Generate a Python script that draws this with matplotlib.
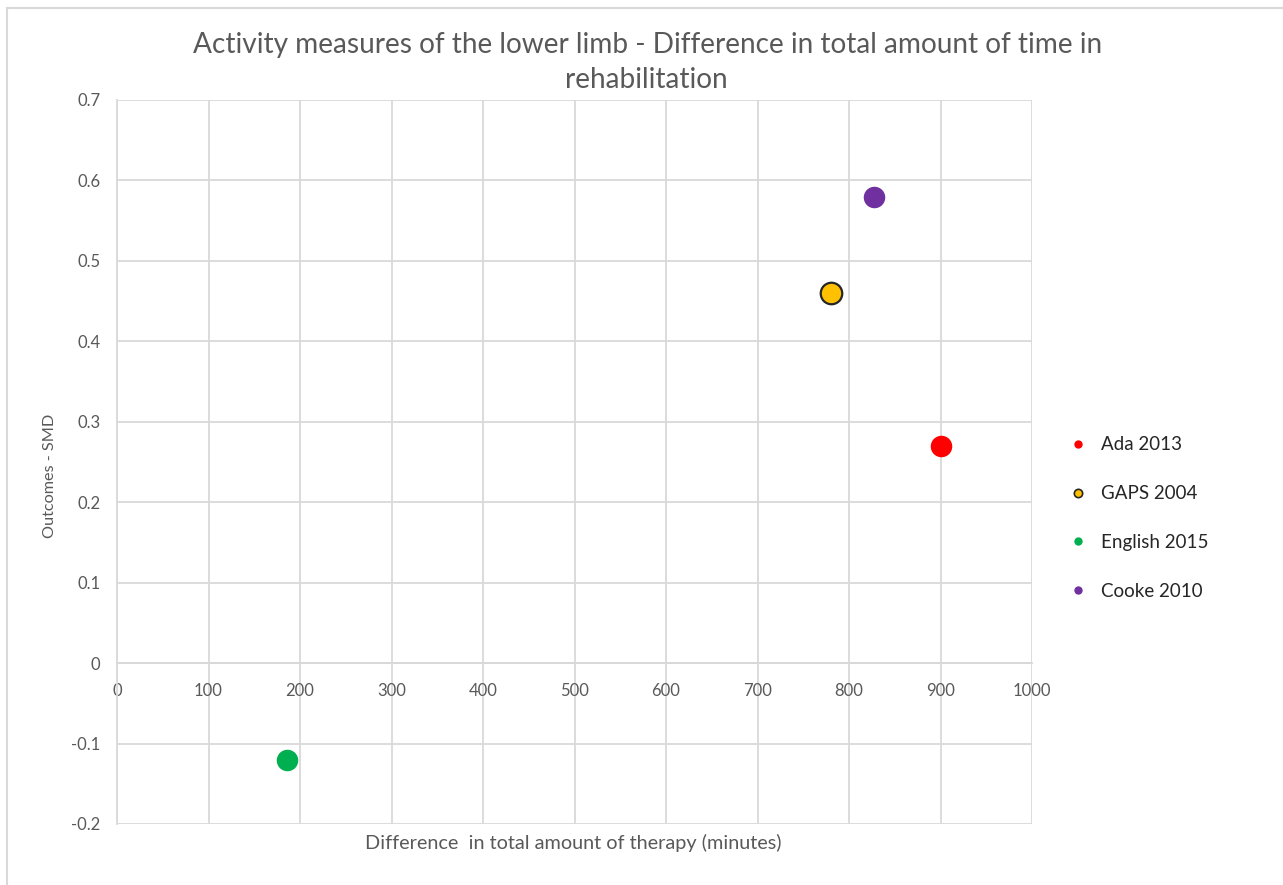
import matplotlib
matplotlib.use("Agg")
import matplotlib.pyplot as plt
from matplotlib.lines import Line2D

studies = ["Ada 2013", "GAPS 2004", "English 2015", "Cooke 2010"]
minutes = [900, 780, 186, 827]
smd = [0.27, 0.46, -0.12, 0.58]
colors = ["#FF0000", "#FFC000", "#00B050", "#7030A0"]
edges = ["#FF0000", "#262626", "#00B050", "#7030A0"]
xticks = [0, 100, 200, 300, 400, 500, 600, 700, 800, 900, 1000]
yticks = [-0.2, -0.1, 0, 0.1, 0.2, 0.3, 0.4, 0.5, 0.6, 0.7]
ytick_labels = ["-0.2", "-0.1", "0", "0.1", "0.2", "0.3", "0.4", "0.5", "0.6", "0.7"]

plt.rcParams['font.family'] = ['Lato', 'DejaVu Sans']
W, H = 1283, 885
fig = plt.figure(figsize=(W/100, H/100), dpi=100)
ax = fig.add_axes([117/W, 1-824/H, (1032-117)/W, (824-100)/H])

grid_c = "#D9D9D9"
txt_c = "#595959"

for x, y, c, e in zip(minutes, smd, colors, edges):
    ax.scatter([x], [y], s=240, color=c, edgecolors=e,
               linewidths=1.6 if e != c else 0, zorder=3)

ax.set_xlim(0, 1000)
ax.set_ylim(-0.2, 0.7)
ax.set_xticks(xticks)
ax.set_yticks(yticks)
ax.set_yticklabels(ytick_labels)
ax.grid(True, color=grid_c, linewidth=1.3)
ax.set_axisbelow(True)
for s in ["top", "right"]:
    ax.spines[s].set_visible(False)
ax.spines["left"].set_color(grid_c)
ax.spines["left"].set_linewidth(1.3)
ax.spines["bottom"].set_position(("data", 0))
ax.spines["bottom"].set_color(grid_c)
ax.spines["bottom"].set_linewidth(1.3)
ax.tick_params(axis="both", length=0, colors=txt_c, labelsize=12)
ax.tick_params(axis="x", pad=14)
ax.tick_params(axis="y", pad=12)
for lab in ax.get_yticklabels():
    lab.set_horizontalalignment("right")

fig.text(573/W, 1-843/H, "Difference  in total amount of therapy (minutes)",
         ha="center", va="center", fontsize=14.3, color=txt_c)
fig.text(50/W, 1-476/H, "Outcomes - SMD", rotation=90,
         ha="center", va="center", fontsize=11.7, color=txt_c)
fig.text(648/W, 1-45/H, "Activity measures of the lower limb - Difference in total amount of time in",
         ha="center", va="center", fontsize=20.2, color=txt_c)
fig.text(646/W, 1-80/H, "rehabilitation",
         ha="center", va="center", fontsize=20.2, color=txt_c)

handles = [Line2D([], [], linestyle="none", marker="o", markersize=6,
                  markerfacecolor=c, markeredgecolor=e,
                  markeredgewidth=1.2 if e != c else 0)
           for c, e in zip(colors, edges)]
fig.legend(handles, studies, loc="center left", bbox_to_anchor=(1050/W, 1-518/H),
           frameon=False, fontsize=13.5, labelspacing=1.7, handletextpad=0.6,
           handlelength=1.2, labelcolor="#262626")

# outer chart border (top and left)
fig.add_artist(Line2D([7/W, 1], [1-8/H, 1-8/H], color="#D9D9D9", linewidth=1.5, transform=fig.transFigure))
fig.add_artist(Line2D([7/W, 7/W], [0, 1-8/H], color="#D9D9D9", linewidth=1.5, transform=fig.transFigure))

fig.savefig("out.png", dpi=100)
